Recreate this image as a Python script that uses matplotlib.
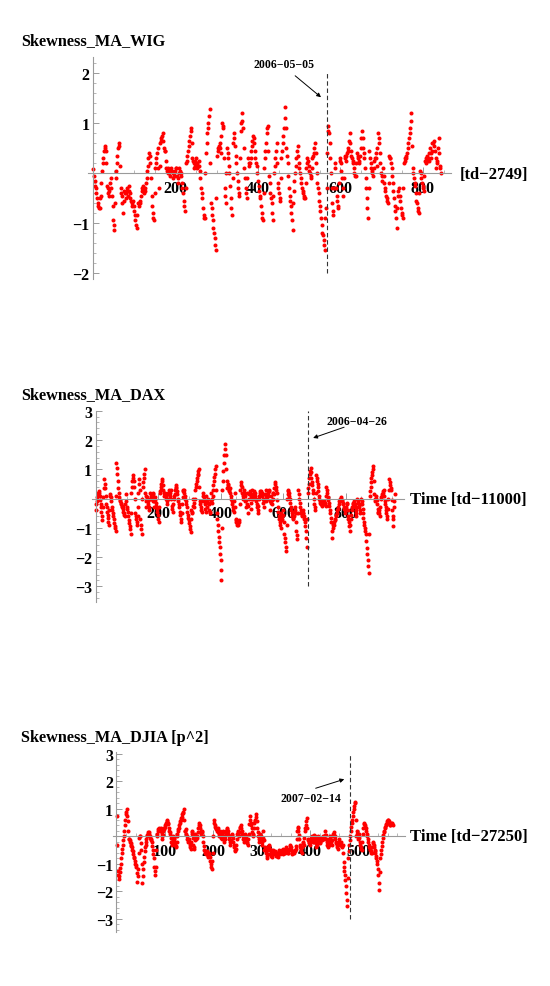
import matplotlib
matplotlib.use("Agg")
import matplotlib.pyplot as plt
import numpy as np

plt.rcParams['font.family'] = ['Liberation Serif', 'DejaVu Serif']
plt.rcParams['font.weight'] = 'bold'

# Skewness (moving average) WIG, read every 3 trading days
wig_y = [0.08, -0.15, -0.3, -0.5, -0.65, -0.7, -0.45, 0.05, 0.3, 0.55,
         0.45, -0.25, -0.4, -0.35, -0.1, -0.45, -0.95, -1.15, -0.1, 0.2,
         0.5, 0.6, -0.3, -0.45, -0.8, -0.35, -0.5, -0.3, -0.45, -0.25,
         -0.5, -0.65, -0.55, -0.75, -0.95, -1.1, -0.6, -0.65, -0.55, -0.35,
         -0.25, -0.4, -0.3, -0.1, 0.15, 0.4, 0.2, -0.45, -0.8, -0.95,
         0.1, 0.3, 0.5, -0.3, 0.6, 0.7, 0.8, 0.5, 0.45, 0.1,
         0.0, 0.05, -0.05, 0.1, 0.0, -0.05, 0.05, 0.1, -0.2, 0.0,
         0.05, -0.05, -0.3, -0.55, -0.75, 0.2, 0.35, 0.55, 0.75, 0.9,
         0.3, 0.2, 0.15, 0.3, 0.1, 0.25, 0.05, -0.3, -0.5, -0.85,
         -0.9, 0.4, 0.8, 1.0, 1.28, -0.6, -0.85, -1.1, -1.3, -1.55,
         0.35, 0.5, 0.6, 0.4, 1.0, 0.9, -0.3, -0.6, 0.5, 0.3,
         0.0, -0.5, -0.85, 0.6, 0.8, 0.35, 0.0, -0.3, -0.45, 0.85,
         1.2, 0.9, 0.1, -0.3, -0.5,
         0.3, 0.15, 0.3, 0.55, 0.75, 0.6, 0.3, 0.15, -0.15, -0.35,
         -0.5, -0.8, -0.95, 0.1, 0.45, 0.8, 0.95, -0.05, -0.4, -0.6,
         -0.95, 0.0, 0.3, 0.6, -0.2, -0.4, -0.55, 0.3, 0.6, 0.9,
         1.32, 0.5, 0.2, -0.3, -0.55, -0.8, -1.15, -0.35, 0.0, 0.3,
         0.55, 0.2, 0.0, -0.2, -0.35, -0.45, -0.5, 0.1, 0.3, 0.15,
         0.0, -0.1, 0.3, 0.4, 0.6, 0.2, -0.2, -0.4, -0.65, -0.9,
         -1.2, -1.35, -1.55, -0.7, 0.4, 0.95, 0.6, 0.0, -0.6, -0.85,
         0.2, -0.3, -0.55, -0.7, 0.3, 0.2, -0.1, -0.45, 0.35, 0.25,
         0.4, 0.5, 0.8, 0.45, 0.3, 0.2, 0.0, -0.05, 0.4, 0.3,
         0.2, 0.5, 0.85, 0.5, 0.3, -0.1, -0.5, -0.9, 0.45, 0.2,
         0.0, -0.05, 0.25, 0.4, 0.15, 0.8, 0.6, 0.2, -0.15, 0.1,
         -0.2, -0.35, -0.5, -0.6, 0.35, 0.3, 0.1, -0.2, -0.5, -0.75,
         -1.1, -0.45, -0.3, -0.55, -0.8, -0.9, 0.2, 0.25, 0.35, 0.5,
         0.7, 0.9, 1.2, 0.1, -0.1, -0.25, -0.55, -0.7, -0.8, 0.05,
         -0.1, -0.25, -0.35, 0.25, 0.3, 0.35, 0.25, 0.5, 0.3, 0.6,
         0.65, 0.45, 0.1, 0.25, 0.7, 0.15, 0.0]
wig_y2 = [-0.05, -0.25, -0.4, -0.6, -0.7, -0.5, -0.2, 0.2, 0.45, 0.5,
          0.2, -0.3, -0.45, -0.2, -0.3, -0.65, -1.05, -0.6, 0.05, 0.35,
          0.55, 0.15, -0.4, -0.6, -0.55, -0.4, -0.4, -0.35, -0.35, -0.4,
          -0.55, -0.6, -0.65, -0.85, -1.05, -0.85, -0.6, -0.6, -0.45, -0.3,
          -0.35, -0.35, -0.2, 0.05, 0.3, 0.35, -0.1, -0.65, -0.9, -0.4,
          0.2, 0.4, 0.1, 0.15, 0.65, 0.75, 0.65, 0.45, 0.25, 0.05,
          0.1, 0.0, 0.05, 0.05, -0.1, 0.0, 0.1, -0.05, -0.1, 0.1,
          0.0, -0.2, -0.4, -0.65, -0.3, 0.25, 0.45, 0.65, 0.85, 0.6,
          0.25, 0.1, 0.25, 0.2, 0.15, 0.15, -0.1, -0.4, -0.7, -0.9,
          0.0, 0.6, 0.9, 1.15, 0.2, -0.7, -0.95, -1.2, -1.45, -0.5,
          0.45, 0.55, 0.5, 0.75, 0.95, 0.3, -0.45, 0.0, 0.4, 0.15,
          -0.25, -0.7, -0.1, 0.7, 0.55, 0.2, -0.15, -0.4, 0.3, 1.0,
          1.05, 0.5, -0.1, -0.4, -0.1,
          0.2, 0.2, 0.45, 0.65, 0.7, 0.45, 0.2, 0.0, -0.25, -0.45,
          -0.65, -0.9, -0.4, 0.3, 0.6, 0.9, 0.45, -0.2, -0.5, -0.8,
          -0.45, 0.15, 0.45, 0.2, -0.3, -0.5, -0.1, 0.45, 0.75, 1.1,
          0.9, 0.35, -0.05, -0.45, -0.65, -0.95, -0.6, -0.15, 0.15, 0.45,
          0.35, 0.1, -0.1, -0.3, -0.4, -0.5, -0.2, 0.2, 0.25, 0.05,
          -0.05, 0.1, 0.35, 0.5, 0.4, 0.0, -0.3, -0.55, -0.75, -1.05,
          -1.25, -1.45, -0.9, -0.3, 0.85, 0.8, 0.3, -0.3, -0.75, -0.3,
          0.1, -0.45, -0.65, -0.2, 0.25, 0.05, -0.3, -0.1, 0.3, 0.35,
          0.45, 0.65, 0.6, 0.35, 0.25, 0.1, -0.05, 0.2, 0.35, 0.25,
          0.35, 0.7, 0.7, 0.4, 0.1, -0.3, -0.7, -0.3, 0.3, 0.1,
          0.05, 0.1, 0.3, 0.3, 0.5, 0.7, 0.4, 0.0, -0.05, -0.05,
          -0.3, -0.45, -0.55, -0.2, 0.3, 0.2, -0.05, -0.35, -0.65, -0.9,
          -0.7, -0.35, -0.45, -0.7, -0.85, -0.3, 0.3, 0.3, 0.4, 0.6,
          0.8, 1.05, 0.55, 0.0, -0.2, -0.4, -0.6, -0.75, -0.4, 0.0,
          -0.2, -0.3, -0.05, 0.2, 0.25, 0.3, 0.4, 0.4, 0.45, 0.6,
          0.55, 0.3, 0.2, 0.5, 0.4, 0.1]

# DAX, every 3 trading days
dax_y = [-0.4, -0.1, 0.15, 0.25, 0.1, -0.2, -0.45, -0.75, 0.05, 0.65,
         0.35, -0.2, -0.45, -0.65, -0.9, 0.15, 0.05, -0.3, -0.5, -0.7,
         -0.95, -1.1, 1.2, 0.85, 0.35, 0.05, -0.1, -0.2, -0.3, -0.35,
         -0.5, -0.6, 0.15, -0.3, -0.45, -0.75, -0.95, -1.2, 0.2, 0.6,
         0.8, 0.4, -0.5, -0.7, -0.9, -0.3, 0.65, 0.3, -0.9, -1.2,
         0.4, 0.7, 1.0, -0.3, 0.1, 0.0, -0.2, -0.4, 0.2, 0.0,
         0.1, 0.2, -0.3, 0.05, -0.15, -0.35, -0.55, -0.8, 0.2, 0.3,
         0.5, 0.65, 0.3, 0.1, 0.2, 0.0, -0.2, 0.15, 0.3, 0.1,
         0.3, -0.25, -0.45, 0.0, 0.15, 0.45, 0.35, 0.15, -0.1, -0.3,
         -0.55, -0.8, -0.2, 0.25, 0.3, 0.1, -0.1, -0.3, -0.55, -0.75,
         -0.95, -1.15, -0.4, -0.5, 0.0, -0.3, 0.3, 0.5, 0.7, 0.85,
         1.0, -0.1, -0.3, -0.45, 0.2, 0.0, -0.2, -0.45, 0.1, -0.3,
         0.0, -0.4, -0.5,
         0.2, -0.15, 0.3, 0.6, 0.85, 1.1, -0.5, -0.9, -1.3, -1.65,
         -2.1, -2.8, 0.3, 0.95, 1.5, 1.85, 1.0, 0.35, 0.5, 0.25,
         0.35, 0.1, -0.1, -0.3, -0.45, 0.2, -0.7, -0.8, -0.9, -0.85,
         -0.75, 0.3, 0.55, 0.2, 0.0, 0.3, 0.1, -0.3, 0.2, -0.5,
         0.0, 0.25, 0.1, -0.35, 0.3, 0.0, 0.25, 0.1, -0.1, -0.3,
         -0.5, 0.0, 0.2, 0.25, 0.2, 0.0, -0.3, 0.15, -0.1, 0.3,
         0.0, 0.2, 0.3, -0.4, 0.1, -0.2, 0.2, 0.15, 0.55, 0.4,
         0.2, -0.3, -0.6, -0.8, -1.0, -0.5, -0.7, -0.4, -1.2, -1.5,
         -1.8, 0.0, 0.3, 0.2, 0.0, -0.3, -0.5, -0.7, -0.6, -0.3,
         -0.5, -1.1, -1.4, 0.3, 0.0, -0.3, -0.5, -0.6, -0.4, -0.6,
         -0.8, -1.1, -1.65, 0.2, 0.5, 0.85, 1.05, 0.7, 0.45, 0.2,
         -0.2, -0.4, 0.8, 0.6, 0.4, 0.1, -0.1, -0.2, -0.25, -0.1,
         -0.2, -0.15, -0.25, 0.4, 0.2, -0.05, -0.25, -0.5, -0.8, -1.35,
         -0.85, -0.9, -0.75, -0.6, -0.5, -0.35, -0.2, 0.0, -0.05, 0.05,
         -0.1, -0.2, -0.35, -0.5, -0.3, -0.15, -0.6, -0.8, -1.1, -0.7,
         -0.4, -0.2, -0.1, -0.2, -0.4, -0.6, 0.0, -0.15, -0.3, -0.5,
         0.0, -0.2, -0.5, -0.8, -1.0, -1.2, -1.7, -2.1, -2.55, 0.1,
         0.4, 0.7, 0.9, 1.1, 0.15, -0.1, 0.1, -0.2, -0.5, -0.4,
         -0.6, 0.0, 0.1, 0.2, 0.3, -0.1, -0.3, -0.5, -0.7, 0.0,
         0.65, 0.45, 0.3, -0.4, -0.95, -0.3, 0.15]
dax_y2 = [-0.2, 0.05, 0.2, 0.2, -0.05, -0.3, -0.6, -0.3, 0.35, 0.5,
          0.1, -0.3, -0.55, -0.8, -0.4, 0.1, -0.1, -0.4, -0.6, -0.85,
          -1.0, 0.1, 1.05, 0.6, 0.2, -0.05, -0.15, -0.25, -0.3, -0.45,
          -0.55, -0.2, -0.1, -0.35, -0.6, -0.85, -1.05, -0.5, 0.4, 0.7,
          0.6, 0.0, -0.6, -0.8, -0.6, 0.2, 0.5, -0.7, -1.05, 0.0,
          0.55, 0.85, 0.2, -0.1, 0.05, -0.1, -0.3, 0.0, 0.1, 0.05,
          0.15, -0.1, -0.1, -0.05, -0.25, -0.45, -0.7, -0.3, 0.25, 0.4,
          0.6, 0.45, 0.2, 0.15, 0.1, -0.1, 0.0, 0.2, 0.2, 0.2,
          0.0, -0.35, -0.2, 0.1, 0.3, 0.4, 0.25, 0.0, -0.2, -0.45,
          -0.7, -0.5, 0.05, 0.3, 0.2, 0.0, -0.2, -0.45, -0.65, -0.85,
          -1.05, -0.7, -0.45, -0.25, -0.15, 0.0, 0.4, 0.6, 0.8, 0.95,
          0.4, -0.2, -0.4, -0.1, 0.1, -0.1, -0.35, -0.15, -0.1, -0.15,
          -0.2, -0.45, -0.1,
          0.0, 0.1, 0.45, 0.75, 1.0, 0.3, -0.7, -1.1, -1.5, -1.9,
          -2.45, -1.0, 0.6, 1.2, 1.7, 1.5, 0.6, 0.45, 0.4, 0.3,
          0.2, 0.0, -0.2, -0.4, -0.1, -0.3, -0.75, -0.85, -0.9, -0.8,
          -0.2, 0.45, 0.4, 0.1, 0.15, 0.2, -0.1, -0.05, -0.2, -0.25,
          0.15, 0.2, -0.15, 0.0, 0.15, 0.1, 0.2, 0.0, -0.2, -0.4,
          -0.25, 0.1, 0.25, 0.2, 0.1, -0.15, -0.1, 0.0, 0.1, 0.15,
          0.1, 0.25, -0.1, -0.15, -0.05, 0.0, 0.2, 0.35, 0.5, 0.3,
          -0.05, -0.45, -0.7, -0.9, -0.75, -0.6, -0.55, -0.8, -1.35, -1.65,
          -0.9, 0.15, 0.25, 0.1, -0.15, -0.4, -0.6, -0.65, -0.45, -0.4,
          -0.8, -1.25, -0.5, 0.15, -0.15, -0.4, -0.55, -0.5, -0.5, -0.7,
          -0.95, -1.35, -0.7, 0.35, 0.7, 0.95, 0.9, 0.55, 0.3, 0.0,
          -0.3, 0.2, 0.7, 0.5, 0.25, 0.0, -0.15, -0.2, -0.15, -0.15,
          -0.1, -0.2, 0.1, 0.3, 0.05, -0.15, -0.4, -0.65, -1.1, -1.0,
          -0.9, -0.8, -0.7, -0.55, -0.4, -0.3, -0.1, -0.05, 0.0, -0.05,
          -0.15, -0.3, -0.4, -0.4, -0.2, -0.4, -0.7, -0.95, -0.9, -0.55,
          -0.3, -0.15, -0.15, -0.3, -0.5, -0.3, -0.1, -0.2, -0.4, -0.2,
          -0.1, -0.35, -0.65, -0.9, -1.1, -1.45, -1.9, -2.3, -1.2, 0.25,
          0.55, 0.8, 1.0, 0.6, 0.0, 0.0, -0.05, -0.35, -0.45, -0.5,
          -0.3, 0.05, 0.15, 0.25, 0.1, -0.2, -0.4, -0.6, -0.35, 0.3,
          0.55, 0.35, -0.05, -0.7, -0.6, -0.1]

# DJIA, every 2 trading days
djia_y = [0.75, -1.25, -1.55, -1.3, -1.0, -0.6, -0.3, 0.0, 0.4, 0.8,
          1.0, 0.55, -0.1, -0.15, -0.25, -0.35, -0.5, -0.65, -0.8, -1.0,
          -1.1, -1.65, -1.2, -0.05, 0.0, -0.5, -1.7, -1.2, -0.75, -0.4,
          -0.2, 0.0, 0.1, 0.15, 0.0, -0.1, -0.2, -0.5, -0.8, -1.4,
          -1.1, 0.0, 0.2, 0.3, 0.2, 0.3, 0.1, -0.1, 0.2, 0.3,
          0.4, 0.5, 0.6, 0.45, 0.2, 0.1, -0.2, -0.3, 0.0, -0.1,
          -0.3, -0.4, 0.0, 0.2, 0.3, 0.5, 0.6, 0.7, 0.85, 1.0,
          0.2, 0.25, 0.0, -0.2, -0.1, -0.3, -0.45, 0.1, 0.2, -0.3,
          -0.45, 0.1, -0.1, 0.0, 0.3, 0.5, 0.3, 0.1, 0.2, -0.2,
          -0.5, -0.6, -0.65, -0.55, -0.75, -0.6, -0.75, -1.0, -1.2, -0.6,
          0.6, 0.4, 0.3, 0.2, 0.3, 0.0, 0.2, 0.0, -0.1, 0.1,
          0.2, -0.2, 0.0, 0.2, 0.3, 0.1, -0.1, -0.3, 0.0, 0.1,
          -0.2, -0.4, -0.55, -0.3, 0.1, 0.2, 0.0, 0.3, 0.4, 0.2,
          0.0, -0.2, 0.1, 0.0, -0.2, -0.3, 0.1, 0.75, 0.5, 0.3,
          0.0, 0.1, 0.5, 0.6, 0.8, 0.3, 0.0, -0.2, 0.1, -0.1,
          -0.3, 0.2, -0.5, -0.4, -0.6, -0.8, -0.5, -0.3, -0.45, -0.6,
          -0.75, -0.5, -0.65, -0.55, -0.7, -0.6, -0.75, -0.5, -0.65, -0.55,
          -0.6, -0.45, -0.65, -0.5, -0.6, -0.4, -0.55, -0.6, -0.45, -0.3,
          -0.5, -0.65, -0.55, -0.6, -0.5, -0.35, 0.2, 0.35, 0.05, -0.3,
          -0.45, -0.6, -0.2, -0.3, 0.2, 0.4, 0.65, -0.1, -0.2, -0.3,
          -0.1, 0.0, -0.15, -0.2, 0.05, -0.1, -0.4, -0.2, 0.0, -0.1,
          -0.25, -0.05, -0.15, 0.0, -0.1, 0.2, -0.1, -0.3, -0.4, -0.2,
          0.0, -0.15, -0.3, 0.0, 0.15, 0.0, -0.2, -0.3, -0.45, -0.1,
          -0.3, -0.2, -0.4, -0.3, -0.95, -1.25, -1.6, -2.05, -2.55, -0.8,
          -0.3, 0.0, 0.35, 0.6, 0.9, 1.1, 1.25, 0.0, 0.2, -0.1,
          0.1, -0.2, -0.4, -0.5, 0.1, 0.5, 0.4, 0.3, 0.1, -0.1,
          -0.3, -0.45, -0.55, -0.6, -0.2, -0.3, -0.5, -0.6, -0.8, -1.0,
          -1.4, -1.95, -0.8, -0.5, -0.2, 0.05, 0.2, 0.35, 0.45, 0.55,
          0.6, 0.5, 0.4, 0.45, 0.5, 0.4]
djia_y2 = [-0.3, -1.4, -1.45, -1.15, -0.8, -0.45, -0.15, 0.2, 0.6, 0.9,
           0.75, 0.2, -0.1, -0.2, -0.3, -0.4, -0.55, -0.75, -0.9, -1.05,
           -1.35, -1.45, -0.6, 0.0, -0.25, -1.0, -1.45, -0.95, -0.55, -0.3,
           -0.1, 0.05, 0.15, 0.1, -0.05, -0.15, -0.35, -0.65, -1.1, -1.25,
           -0.5, 0.1, 0.25, 0.25, 0.25, 0.2, 0.0, 0.05, 0.25, 0.35,
           0.45, 0.55, 0.5, 0.3, 0.15, -0.05, -0.25, -0.15, -0.05, -0.2,
           -0.35, -0.2, 0.1, 0.25, 0.4, 0.55, 0.65, 0.8, 0.9, 0.6,
           0.2, 0.1, -0.1, -0.15, -0.2, -0.4, -0.2, 0.15, -0.05, -0.4,
           -0.15, 0.0, -0.05, 0.15, 0.4, 0.4, 0.2, 0.15, 0.0, -0.35,
           -0.55, -0.6, -0.6, -0.65, -0.7, -0.65, -0.9, -1.1, -0.9, 0.0,
           0.5, 0.35, 0.25, 0.25, 0.15, 0.1, 0.1, -0.05, 0.0, 0.15,
           0.0, -0.1, 0.1, 0.25, 0.2, 0.0, -0.2, -0.15, 0.05, -0.05,
           -0.3, -0.5, -0.45, -0.1, 0.15, 0.1, 0.15, 0.35, 0.3, 0.1,
           -0.1, -0.05, 0.05, -0.1, -0.25, -0.1, 0.45, 0.6, 0.4, 0.15,
           0.05, 0.3, 0.55, 0.7, 0.55, 0.15, -0.1, -0.05, 0.0, -0.2,
           -0.05, -0.15, -0.45, -0.5, -0.7, -0.65, -0.4, -0.35, -0.5, -0.7,
           -0.6, -0.55, -0.6, -0.6, -0.65, -0.7, -0.6, -0.55, -0.6, -0.55,
           -0.5, -0.55, -0.6, -0.55, -0.5, -0.5, -0.6, -0.5, -0.35, -0.4,
           -0.6, -0.6, -0.55, -0.55, -0.45, -0.1, 0.3, 0.2, -0.1, -0.4,
           -0.55, -0.4, -0.25, -0.05, 0.3, 0.55, 0.3, -0.15, -0.25, -0.2,
           -0.05, -0.05, -0.2, -0.05, 0.0, -0.25, -0.3, -0.1, -0.05, -0.2,
           -0.15, -0.1, -0.05, -0.05, 0.05, 0.05, -0.2, -0.35, -0.3, -0.1,
           -0.1, -0.2, -0.15, 0.1, 0.05, -0.1, -0.25, -0.4, -0.25, -0.2,
           -0.25, -0.3, -0.35, -0.6, -1.1, -1.4, -1.8, -2.3, -1.5, -0.55,
           -0.15, 0.2, 0.5, 0.75, 1.0, 1.2, 0.6, 0.1, 0.05, 0.0,
           -0.05, -0.3, -0.45, -0.2, 0.3, 0.45, 0.35, 0.2, 0.0, -0.2,
           -0.4, -0.5, -0.6, -0.4, -0.25, -0.4, -0.55, -0.7, -0.9, -1.2,
           -1.7, -1.3, -0.65, -0.35, -0.05, 0.15, 0.3, 0.4, 0.5, 0.6,
           0.55, 0.45, 0.4, 0.5, 0.45]

wig_x = np.concatenate([1 + 3 * np.arange(len(wig_y)), 2.5 + 3 * np.arange(len(wig_y2))])
dax_x = np.concatenate([1 + 3 * np.arange(len(dax_y)), 2.5 + 3 * np.arange(len(dax_y2))])
djia_x = np.concatenate([1 + 2 * np.arange(len(djia_y)), 2 + 2 * np.arange(len(djia_y2))])

# dates marquees (trait vertical)
wig_event, dax_event, djia_event = 568, 679, 482
wig_date, dax_date, djia_date = "2006\u221205\u221205", "2006\u221204\u221226", "2007\u221202\u221214"

W, H = 550, 987
fig = plt.figure(figsize=(W / 100, H / 100), dpi=100)
grey = '#9a9a9a'


def draw_panel(left, top, right, bottom, xlim, ylim, x, y, xmaj, xmin, ymaj):
    ax = fig.add_axes([left / W, 1 - bottom / H, (right - left) / W, (bottom - top) / H])
    ax.plot(x, y, 'o', color='red', ms=2.9, mec='none', zorder=2)
    ax.set_xlim(xlim)
    ax.set_ylim(ylim)
    ax.patch.set_visible(False)
    for s in ['top', 'right']:
        ax.spines[s].set_visible(False)
    ax.spines['left'].set_position(('data', 0))
    ax.spines['bottom'].set_position(('data', 0))
    for s in ['left', 'bottom']:
        ax.spines[s].set_color(grey)
        ax.spines[s].set_linewidth(0.8)
    ax.set_xticks(xmaj)
    ax.set_xticks(xmin, minor=True)
    ax.set_yticks(ymaj)
    ax.set_yticks([v / 5 for v in range(int(ylim[0] * 5), int(ylim[1] * 5) + 1) if v % 5 != 0], minor=True)
    ax.tick_params(which='major', direction='in', length=4, width=0.7, color=grey, labelsize=11.5)
    ax.tick_params(which='minor', direction='in', length=2, width=0.5, color=grey)
    ax.tick_params(axis='x', pad=5)
    ax.tick_params(axis='y', pad=2.5)
    return ax


# WIG
ax1 = draw_panel(88, 58, 450.6, 280, (-12, 867), (-2.12, 2.32), wig_x, wig_y + wig_y2,
                 [200, 400, 600, 800], range(50, 851, 50), [-2, -1, 1, 2])
ax1.plot([wig_event, wig_event], [-2, 2], color='#333333', lw=0.8, dashes=(4, 2.5))
ax1.annotate('', xy=(558, 1.48), xytext=(485, 1.98),
             arrowprops=dict(arrowstyle='-|>', color='black', lw=0.7, mutation_scale=6))
ax1.text(463, 2.18, wig_date, ha='center', va='center', fontsize=8.5)
fig.text(21 / W, 1 - 41 / H, 'Skewness_MA_WIG', fontsize=11.7, va='center')
fig.text(459.5 / W, 1 - 175 / H, '[td\u22122749]', fontsize=12, va='center')

# DAX
ax2 = draw_panel(91.5, 411.5, 403.5, 603, (-12.8, 985.6), (-3.54, 3.01), dax_x, dax_y + dax_y2,
                 [200, 400, 600, 800], range(50, 951, 50), [-3, -2, -1, 1, 2, 3])
ax2.plot([dax_event, dax_event], [-3, 3], color='#333333', lw=0.8, dashes=(4, 2.5))
ax2.annotate('', xy=(688, 2.04), xytext=(804, 2.47),
             arrowprops=dict(arrowstyle='-|>', color='black', lw=0.7, mutation_scale=6))
ax2.text(835, 2.66, dax_date, ha='center', va='center', fontsize=8.5)
fig.text(21 / W, 1 - 395 / H, 'Skewness_MA_DAX', fontsize=11.7, va='center')
fig.text(410 / W, 1 - 500.5 / H, 'Time [td\u221211000]', fontsize=12, va='center')

# DJIA
ax3 = draw_panel(112.8, 753, 405, 932.7, (-7.6, 596), (-3.47, 3.07), djia_x, djia_y + djia_y2,
                 [100, 200, 300, 400, 500], range(20, 581, 20), [-3, -2, -1, 1, 2, 3])
ax3.plot([djia_event, djia_event], [-3, 3], color='#333333', lw=0.8, dashes=(4, 2.5))
ax3.annotate('', xy=(476, 2.11), xytext=(406, 1.72),
             arrowprops=dict(arrowstyle='-|>', color='black', lw=0.7, mutation_scale=6))
ax3.text(402, 1.38, djia_date, ha='center', va='center', fontsize=8.5)
fig.text(21 / W, 1 - 738.5 / H, 'Skewness_MA_DJIA [p^2]', fontsize=11.7, va='center')
fig.text(410 / W, 1 - 837.5 / H, 'Time [td\u221227250]', fontsize=12, va='center')

fig.savefig('out.png', dpi=100, facecolor='white')
